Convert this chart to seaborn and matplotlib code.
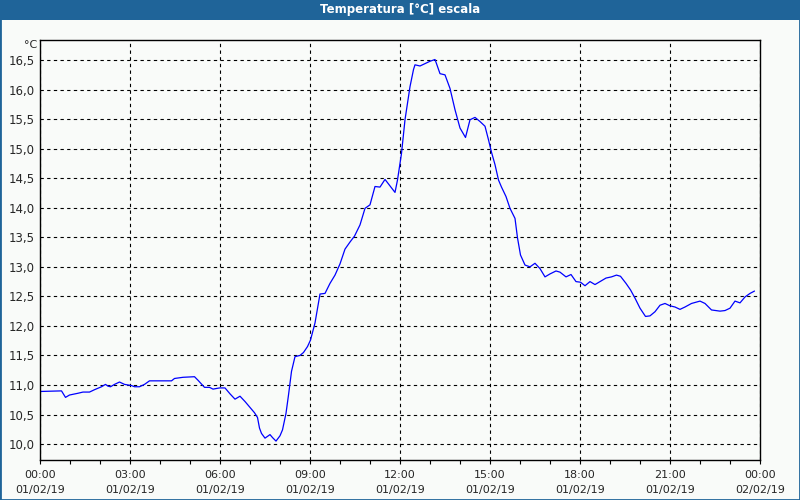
import numpy as np
import pandas as pd
import matplotlib
matplotlib.use("Agg")
import matplotlib.pyplot as plt
import matplotlib.dates as mdates
from matplotlib.ticker import FuncFormatter, MultipleLocator
from matplotlib.patches import Rectangle
import seaborn as sns

# --- data: minutes since 01/02/19 00:00 and temperature [°C] ---
minutes = [0, 43, 51, 59, 76, 86, 99, 109, 123, 131, 136, 141, 149, 159, 169, 183, 189, 199,
           209, 219, 263, 269, 286, 309, 316, 329, 339, 346, 353, 359, 370, 376, 380, 390,
           400, 410, 420, 429, 435, 439, 443, 450, 460, 465, 472, 480, 485, 492, 497, 503,
           510, 520, 527, 535, 541, 550, 560, 570, 580, 590, 600, 610, 620, 629, 640, 650,
           660, 670, 680, 690, 700, 710, 715, 721, 723, 730, 740, 747, 750, 760, 770, 780,
           790, 793, 800, 810, 820, 830, 840, 851, 860, 870, 880, 890, 897, 903, 910, 917,
           923, 932, 940, 950, 955, 961, 970, 980, 990, 1000, 1010, 1020, 1032, 1040, 1052,
           1062, 1072, 1081, 1090, 1100, 1110, 1120, 1132, 1143, 1153, 1161, 1172, 1181,
           1190, 1200, 1211, 1220, 1230, 1240, 1250, 1260, 1270, 1280, 1290, 1303, 1320,
           1330, 1343, 1360, 1370, 1380, 1390, 1400, 1410, 1420, 1429]
temps = [10.89, 10.90, 10.79, 10.83, 10.86, 10.88, 10.88, 10.92, 10.97, 11.01, 10.98, 10.97,
         11.01, 11.05, 11.01, 10.99, 10.97, 10.97, 11.01, 11.07, 11.07, 11.11, 11.13, 11.14,
         11.08, 10.96, 10.96, 10.93, 10.94, 10.95, 10.95, 10.89, 10.85, 10.76, 10.81, 10.72,
         10.62, 10.53, 10.45, 10.27, 10.18, 10.10, 10.16, 10.11, 10.05, 10.14, 10.24, 10.52,
         10.83, 11.23, 11.48, 11.50, 11.55, 11.65, 11.76, 12.05, 12.54, 12.55, 12.72, 12.86,
         13.05, 13.30, 13.42, 13.52, 13.71, 13.99, 14.05, 14.36, 14.35, 14.48, 14.37, 14.26,
         14.47, 14.81, 14.92, 15.49, 16.05, 16.34, 16.42, 16.40, 16.44, 16.48, 16.51, 16.44,
         16.27, 16.25, 16.02, 15.66, 15.35, 15.19, 15.49, 15.53, 15.46, 15.38, 15.15, 14.94,
         14.73, 14.47, 14.35, 14.19, 13.99, 13.82, 13.49, 13.20, 13.03, 13.00, 13.06, 12.97,
         12.83, 12.88, 12.93, 12.91, 12.83, 12.87, 12.75, 12.74, 12.68, 12.75, 12.70, 12.75,
         12.81, 12.83, 12.86, 12.84, 12.72, 12.61, 12.47, 12.30, 12.16, 12.17, 12.24, 12.35,
         12.38, 12.34, 12.32, 12.28, 12.32, 12.38, 12.42, 12.38, 12.27, 12.25, 12.26, 12.30,
         12.42, 12.39, 12.49, 12.55, 12.59]
title = "Temperatura [°C] escala"
unit = "°C"
start = "2019-02-01 00:00"
end = "2019-02-02 00:00"

times = pd.Timestamp(start) + pd.to_timedelta(minutes, unit="m")
df = pd.DataFrame({"time": times, "temp": temps})

sns.set_style("white")
plt.rcParams["font.family"] = ["DejaVu Sans"]

bg = "#f9fbf9"
blue = "#1f6499"
fig = plt.figure(figsize=(8, 5), dpi=100, facecolor=bg)
ax = fig.add_axes([0.05, 0.08, 0.90, 0.84])
ax.set_facecolor(bg)

sns.lineplot(data=df, x="time", y="temp", ax=ax, color="#0000ff", linewidth=0.9)

ax.set_xlim(pd.Timestamp(start), pd.Timestamp(end))
ax.set_ylim(9.73, 16.84)
ax.set_xlabel("")
ax.set_ylabel("")

ax.xaxis.set_major_locator(mdates.HourLocator(byhour=range(0, 24, 3)))
ax.xaxis.set_minor_locator(mdates.HourLocator())
ax.xaxis.set_major_formatter(FuncFormatter(
    lambda v, p: mdates.num2date(v).strftime("%H:%M\n%d/%m/%y")))
ax.yaxis.set_major_locator(MultipleLocator(0.5))
ax.yaxis.set_major_formatter(FuncFormatter(lambda v, p: f"{v:.1f}".replace(".", ",")))

ax.tick_params(axis="x", which="both", direction="out", length=3, width=0.8,
               color="black", pad=4, labelsize=8, bottom=True)
ax.tick_params(axis="y", length=0, pad=4, labelsize=8.5)
for lab in ax.get_xticklabels():
    lab.set_linespacing(1.6)

ax.grid(True, which="major", color="black", linestyle=(0, (3, 3)), linewidth=0.8)
for s in ax.spines.values():
    s.set_visible(True)
    s.set_color("black")
    s.set_linewidth(1.0)

fig.text(0.047, 0.91, unit, ha="right", va="center", fontsize=8)

# title bar
fig.patches.append(Rectangle((0, 0.96), 1, 0.04, transform=fig.transFigure,
                             facecolor=blue, edgecolor="none", zorder=0))
fig.text(0.5, 0.98, title, ha="center", va="center", color="white",
         fontsize=8.5, fontweight="bold")
# window border
fig.patches.append(Rectangle((0, 0), 1, 1, transform=fig.transFigure,
                             facecolor="none", edgecolor=blue, linewidth=2.0, zorder=5))

fig.savefig("out.png", dpi=100, facecolor=bg)
